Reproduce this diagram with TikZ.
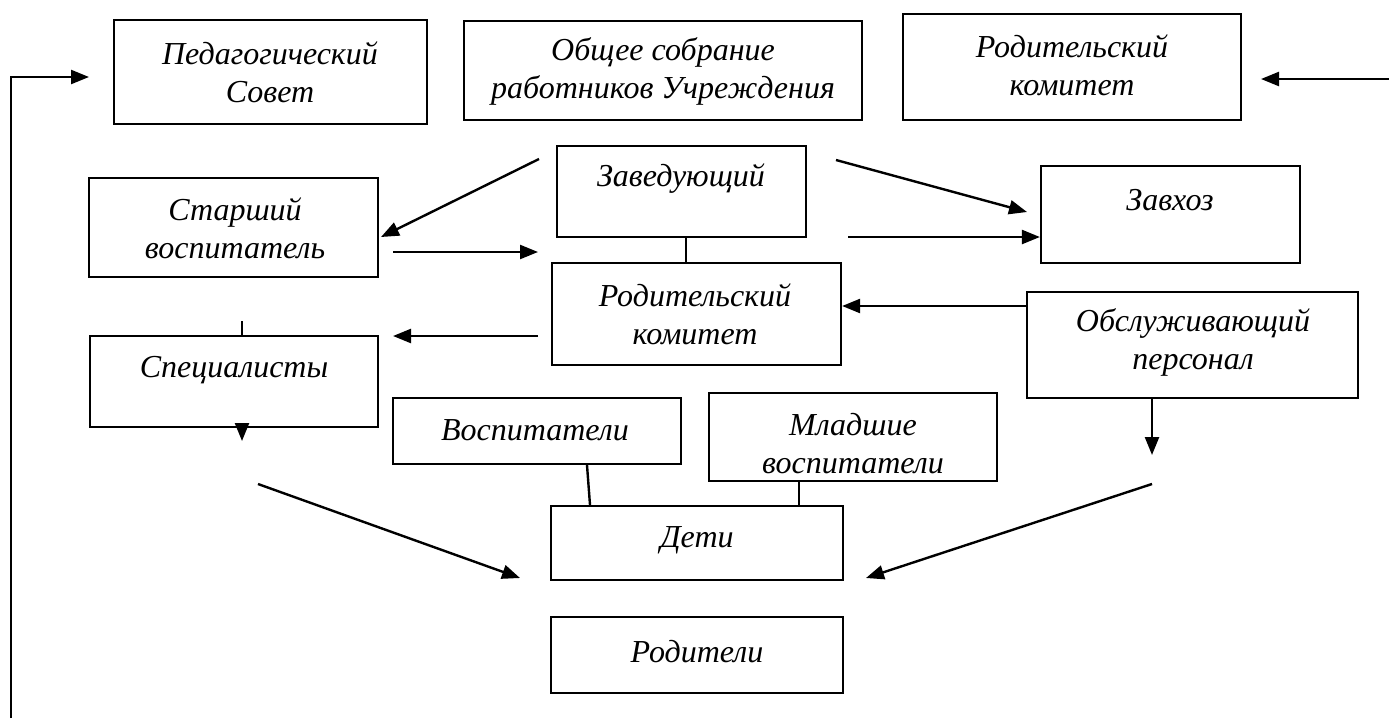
\documentclass[tikz,border=0pt]{standalone}
\usepackage{fontspec}
\setmainfont{Liberation Serif}
\usetikzlibrary{arrows.meta}
\begin{document}
\begin{tikzpicture}[x=1pt,y=-1pt,
  box/.style={draw, line width=2.2pt, inner sep=0pt},
  txt/.style={font=\fontsize{32}{38}\selectfont\itshape, align=center, inner sep=0pt},
  con/.style={line width=2.4pt},
  arr/.style={con, -{Triangle[length=18pt,width=14pt]}}]
\useasboundingbox (0,0) rectangle (1389,718);
% boxes
\node[box, minimum width=313pt, minimum height=104pt] (ped) at (270.5,72) {};
\node[box, minimum width=398pt, minimum height=99pt] (obs) at (663,70.5) {};
\node[box, minimum width=338pt, minimum height=106pt] (rk1) at (1072,67) {};
\node[box, minimum width=249pt, minimum height=91pt] (zav) at (681.5,191.5) {};
\node[box, minimum width=289pt, minimum height=99pt] (st) at (233.5,227.5) {};
\node[box, minimum width=259pt, minimum height=97pt] (zx) at (1170.5,214.5) {};
\node[box, minimum width=289pt, minimum height=102pt] (rk2) at (696.5,314) {};
\node[box, minimum width=288pt, minimum height=91pt] (sp) at (234,381.5) {};
\node[box, minimum width=331pt, minimum height=106pt] (ob) at (1192.5,345) {};
\node[box, minimum width=288pt, minimum height=66pt] (vo) at (537,431) {};
\node[box, minimum width=288pt, minimum height=88pt] (ml) at (853,437) {};
\node[box, minimum width=292pt, minimum height=74pt] (de) at (697,543) {};
\node[box, minimum width=292pt, minimum height=76pt] (ro) at (697,655) {};
% texts
\node[txt] (tped) at (270,72) {Педагогический\\Совет};
\node[txt] (tobs) at (663,71) {Общее собрание\\работников Учреждения};
\node[txt] (trk1) at (1072,65) {Родительский\\комитет};
\node[txt] (tzav) at (681,179) {Заведующий};
\node[txt] (tst) at (235,228) {Старший\\воспитатель};
\node[txt] (tzx) at (1170,200) {Завхоз};
\node[txt] (trk2) at (695,314) {Родительский\\комитет};
\node[txt] (tsp) at (234,370) {Специалисты};
\node[txt] (tob) at (1193,342) {Обслуживающий\\персонал};
\node[txt] (tvo) at (535,430) {Воспитатели};
\node[txt] (tml) at (853,444) {Младшие\\воспитатели};
\node[txt] (tde) at (697,540) {Дети};
\node[txt] (tro) at (697,652) {Родители};
% free ends
\coordinate (l0) at (11,718);
\coordinate (l1) at (11,77);
\coordinate (l2) at (89,77);
\coordinate (r0) at (1389,79);
\coordinate (r1) at (1261,79);
\coordinate (a0) at (539,159);
\coordinate (a1) at (381,237);
\coordinate (b0) at (836,160);
\coordinate (b1) at (1027,212);
\coordinate (c0) at (848,237);
\coordinate (d0) at (393,252);
\coordinate (d1) at (538,252);
\coordinate (e0) at (538,336);
\coordinate (e1) at (393,336);
\coordinate (f0) at (242,321);
\coordinate (f1) at (242,441);
\coordinate (g1) at (1152,455);
\coordinate (h0) at (258,484);
\coordinate (h1) at (520,578);
\coordinate (k0) at (1152,484);
\coordinate (k1) at (866,578);
% connectors
\draw[arr] (l0) -- (l1) -- (l2);
\draw[arr] (r0) -- (r1);
\draw[arr] (a0) -- (a1);
\draw[arr] (b0) -- (b1);
\draw[arr] (c0) -- (zx.west |- c0);
\draw[arr] (d0) -- (d1);
\draw[arr] (ob.west |- 0,306) -- (rk2.east |- 0,306);
\draw[arr] (e0) -- (e1);
\draw[con] (zav.south -| 686,0) -- (rk2.north -| 686,0);
\draw[con] (f0) -- (sp.north -| f0);
\draw[arr] (sp.south -| f1) -- (f1);
\draw[arr] (ob.south -| g1) -- (g1);
\draw[con] (vo.south -| 587,0) -- (de.north -| 590,0);
\draw[con] (ml.south -| 799,0) -- (de.north -| 799,0);
\draw[arr] (h0) -- (h1);
\draw[arr] (k0) -- (k1);
\end{tikzpicture}
\end{document}
